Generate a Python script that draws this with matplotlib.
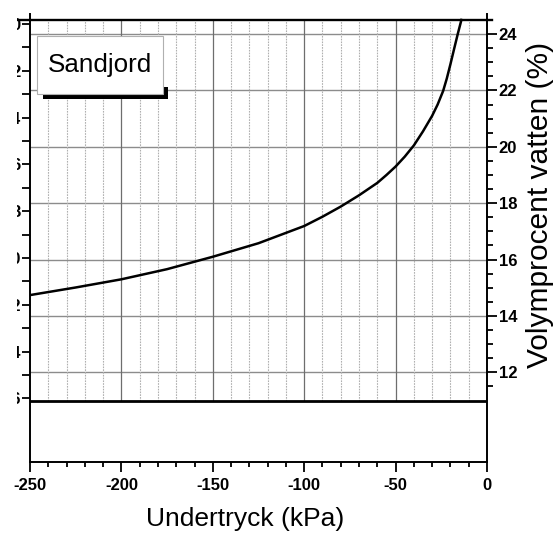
import matplotlib
matplotlib.use('Agg')
import matplotlib.pyplot as plt
from matplotlib.patches import Rectangle
import numpy as np

plt.rcParams['font.family'] = ['Liberation Sans', 'DejaVu Sans']
plt.rcParams['axes.unicode_minus'] = False

# vattenhållningskurva, sandjord (avläst)
undertryck = [-250, -225, -200, -175, -150, -125, -100, -90, -80, -70,
              -60, -55, -50, -45, -40, -35, -30, -27, -24, -22, -20, -18, -16, -14]
vatten = [14.74, 15.01, 15.30, 15.66, 16.10, 16.58, 17.19, 17.52, 17.88, 18.28,
          18.72, 19.00, 19.30, 19.65, 20.05, 20.55, 21.10, 21.50, 21.98, 22.42,
          22.93, 23.47, 24.00, 24.5]

x_ticks = [-250, -200, -150, -100, -50, 0]
y_ticks = [12, 14, 16, 18, 20, 22, 24]
left_ticks = [0, 2, 4, 6, 8, 10, 12, 14, 16]
jordart = 'Sandjord'

fig = plt.figure(figsize=(5.58, 5.33), dpi=100)
ax = fig.add_axes([30/558, 1 - 462/533, 457/558, 448/533])
ax2 = ax.twinx()
ax.set_xlim(-250, 0)
ax.set_ylim(8.82, 24.71)

# rutnät
for v in y_ticks:
    ax.axhline(v, color='#8c8c8c', lw=1.0, zorder=1)
for x in np.arange(-240, 0, 10):
    if x % 50 == 0:
        ax.vlines(x, 11, 24.5, color='#6e6e6e', lw=0.9, zorder=1)
    else:
        ax.vlines(x, 11, 24.5, color='#b0b0b0', lw=0.8, linestyles=(0, (1.5, 1)), zorder=1)

ax.axhline(24.5, xmin=-0.026, xmax=1.012, color='black', lw=1.7, clip_on=False, zorder=3)
ax.axhline(11, color='black', lw=2.0, zorder=3)

ax.plot(undertryck, vatten, color='black', lw=1.8, zorder=4)

ax.spines['top'].set_visible(False)
for s in ['left', 'right', 'bottom']:
    ax.spines[s].set_linewidth(1.4)

ax.set_xticks(x_ticks)
ax.set_xticks(np.arange(-240, 0, 10), minor=True)
ax.tick_params(axis='x', which='major', length=7.2, width=1.3, pad=4.5, labelsize=12)
ax.tick_params(axis='x', which='minor', length=3.6, width=1.3)

ax.yaxis.tick_right()
ax.set_yticks(y_ticks)
ax.set_yticks(np.arange(11.5, 24.6, 0.5), minor=True)
ax.tick_params(axis='y', which='major', length=7, width=1.3, pad=1.5, labelsize=12)
ax.tick_params(axis='y', which='minor', length=4.5, width=1.3)
plt.setp(ax.get_xticklabels() + ax.get_yticklabels(), fontweight='bold')

# vänster axel (avskuren i originalet)
ax2.set_ylim(18.72, -0.43)
ax2.yaxis.tick_left()
ax2.set_yticks(left_ticks)
ax2.set_yticks(np.arange(1, 16, 2), minor=True)
ax2.tick_params(axis='y', which='both', length=6, width=1.3, pad=1, labelsize=12)
plt.setp(ax2.get_yticklabels(), fontweight='bold')
for s in ax2.spines.values():
    s.set_visible(False)

fig.add_artist(Rectangle((0, 1 - 464/533), 16.5/558, 464/533, transform=fig.transFigure,
                         facecolor='white', edgecolor='none', zorder=10))

# etikettruta
ax.add_patch(Rectangle((0.0284, 0.810), 0.274, 0.011, transform=ax.transAxes,
                       facecolor='black', edgecolor='none', zorder=5))
ax.add_patch(Rectangle((0.291, 0.810), 0.011, 0.027, transform=ax.transAxes,
                       facecolor='black', edgecolor='none', zorder=5))
ax.add_patch(Rectangle((0.0153, 0.821), 0.2757, 0.130, transform=ax.transAxes,
                       facecolor='white', edgecolor='#b0b0b0', lw=0.8, zorder=6))
ax.text(0.153, 0.886, jordart, transform=ax.transAxes, ha='center', va='center',
        fontsize=18.7, zorder=7)

fig.text(245/558, 1 - 519/533, 'Undertryck (kPa)', ha='center', va='center', fontsize=19)
fig.text(540/558, 1 - 205/533, 'Volymprocent vatten (%)', rotation=90,
         ha='center', va='center', fontsize=21.5)

fig.savefig('out.png', dpi=100)
